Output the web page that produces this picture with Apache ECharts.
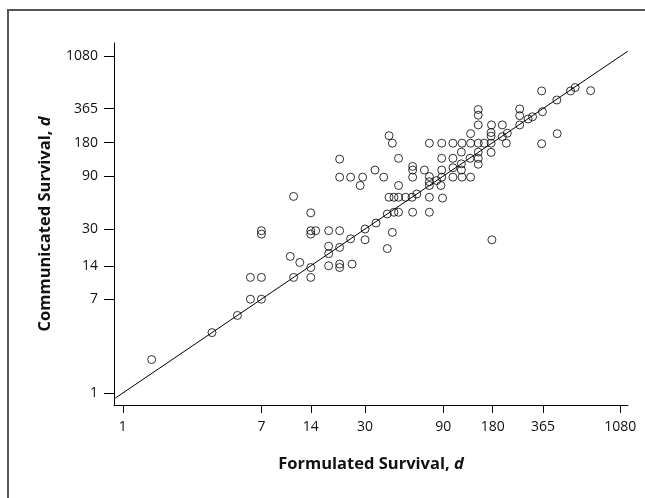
<!DOCTYPE html>
<html>
<head>
<meta charset="utf-8">
<script src="https://cdn.jsdelivr.net/npm/echarts@6/dist/echarts.min.js"></script>
<style>
html,body{margin:0;padding:0;background:#fff;}
#chart{width:645px;height:498px;}
</style>
</head>
<body>
<div id="chart"></div>
<script>
// Tick values shown on both axes (days)
const tickValues = [1, 7, 14, 30, 90, 180, 365, 1080];

// Formulated survival (x, days) and communicated survival (y, days), one entry per patient
const formulated = [
  1.5, 3.5, 5, 6, 7, 6, 7, 7, 7, 10.5, 12, 11, 14, 14, 18, 18, 18, 21, 21, 21,
  25, 24.5, 30, 41, 44, 178, 30, 18, 21, 14, 14, 15, 14, 11,
  42, 44, 74, 21, 48, 21, 24.5, 29, 28, 34.5, 39, 58.5, 58.5, 58.5, 69, 74,
  74, 74, 48, 42, 45, 48, 53, 58, 62, 74, 41, 45, 48, 58.5, 74, 35, 89, 87, 82,
  88, 103, 117, 132, 147, 160, 176, 218, 358, 88, 103, 131, 147, 88, 103, 116,
  88, 103, 117, 132, 116, 147, 116, 147, 176, 132, 176, 176, 206, 221,
  147, 147, 147, 177, 206, 263, 263, 263, 296, 315, 362, 443, 445, 358, 537, 573, 712
];
const communicated = [
  2, 3.5, 5, 7, 7, 11, 11, 29, 27, 17, 15, 11, 11, 13.5, 14, 18, 21, 14.5, 13.5, 20.5,
  14.5, 24.5, 24, 20, 28, 24, 30, 29, 29, 29, 27, 29, 42, 59,
  208, 178, 178, 128, 130, 88, 88, 88, 74, 102, 88, 110, 102, 88, 102, 89,
  80, 74, 74, 58, 58, 58, 58, 58, 62, 58, 41, 42.5, 42.5, 42.5, 42.5, 34, 57, 74, 82,
  178, 178, 178, 178, 178, 178, 178, 178, 176, 130, 130, 130, 130, 102, 107, 102,
  88, 88, 88, 88, 116, 115, 148, 148, 147, 217, 222, 206, 204, 219,
  358, 318, 260, 260, 260, 362, 315, 260, 294, 308, 342, 436, 217, 526, 526, 565, 529
];

// Line of identity (x = y) across the plotted range
const identityRange = [0.9, 1200];

const points = formulated.map((x, i) => [x, communicated[i]]);
const identity = identityRange.map(v => [v, v]);

const labelFont = 'Open Sans';
const plain = v => String(Math.round(v));
const chart = echarts.init(document.getElementById('chart'), null, {renderer: 'canvas'});

const titleRich = {
  b: {fontFamily: labelFont, fontWeight: 'bold', fontSize: 16.5, color: '#111'},
  i: {fontFamily: labelFont, fontWeight: 'bold', fontStyle: 'italic', fontSize: 16.5, color: '#111'}
};

chart.setOption({
  animation: false,
  backgroundColor: '#fff',
  graphic: [{
    type: 'rect',
    shape: {x: 8, y: 10, width: 800, height: 700},
    style: {fill: 'none', stroke: '#555', lineWidth: 2},
    silent: true
  }],
  grid: {left: 114, top: 43, right: 17, bottom: 93, outerBoundsMode: 'none', containLabel: false},
  xAxis: {
    type: 'log', logBase: 10, min: 0.884, max: 1203,
    axisLine: {show: true, onZero: false, lineStyle: {color: '#000', width: 1}},
    axisTick: {show: true, length: 8, inside: false, customValues: tickValues, lineStyle: {color: '#000'}},
    minorTick: {show: false},
    splitLine: {show: false},
    axisLabel: {customValues: tickValues, formatter: plain, margin: 15, color: '#111', fontFamily: labelFont, fontSize: 14},
    name: '{b|Formulated Survival, }{i|d}',
    nameLocation: 'middle', nameGap: 51,
    nameTextStyle: {rich: titleRich}
  },
  yAxis: {
    type: 'log', logBase: 10, min: 0.78, max: 1422,
    axisLine: {show: true, onZero: false, lineStyle: {color: '#000', width: 1}},
    axisTick: {show: true, length: 10, inside: false, customValues: tickValues, lineStyle: {color: '#000'}},
    minorTick: {show: false},
    splitLine: {show: false},
    axisLabel: {customValues: tickValues, formatter: plain, margin: 16, color: '#111', fontFamily: labelFont, fontSize: 14},
    name: '{b|Communicated Survival, }{i|d}',
    nameLocation: 'middle', nameGap: 60, nameRotate: 90,
    nameTextStyle: {rich: titleRich}
  },
  series: [
    {
      type: 'line', data: identity, showSymbol: false, symbol: 'none',
      lineStyle: {color: '#000', width: 1}, silent: true, z: 1
    },
    {
      type: 'scatter', data: points, symbol: 'circle', symbolSize: 8,
      itemStyle: {color: 'rgba(0,0,0,0)', borderColor: '#000', borderWidth: 1},
      z: 2
    }
  ]
});
</script>
</body>
</html>
